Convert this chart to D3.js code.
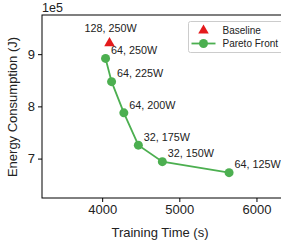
<!DOCTYPE html>
<html><head><meta charset="utf-8">
<script src="https://cdn.jsdelivr.net/npm/d3@7/dist/d3.min.js"></script>
<style>body{margin:0;background:#fff}svg{display:block}text{font-family:"Liberation Sans",Arial,sans-serif;fill:#222}</style>
</head><body>
<script>
const paretoLabels = ["64, 250W","64, 225W","64, 200W","32, 175W","32, 150W","64, 125W"];
const paretoTime = [4044, 4122, 4281, 4469, 4780, 5645];
const paretoEnergy = [8.918e5, 8.473e5, 7.876e5, 7.257e5, 6.941e5, 6.730e5];
const baselineLabel = ["128, 250W"];
const baselineTime = [4095];
const baselineEnergy = [9.211e5];
const xTicks = [4000, 5000, 6000];
const yTicks = [7e5, 8e5, 9e5];
const legendLabels = ["Baseline", "Pareto Front"];

const W = 281, H = 245;
const green = "#4caf50", red = "#e41a1c";
const svg = d3.select("body").append("svg").attr("width", W).attr("height", H);
const x = d3.scaleLinear().domain([3220, 6370]).range([42, 285]);
const y = d3.scaleLinear().domain([6.245e5, 9.75e5]).range([198, 15]);

// frame
svg.append("rect").attr("x", 42).attr("y", 15).attr("width", 243).attr("height", 183)
  .attr("fill", "none").attr("stroke", "#000").attr("stroke-width", 1);

const xAxis = svg.append("g").attr("transform", "translate(0,198)")
  .call(d3.axisBottom(x).tickValues(xTicks).tickSize(4).tickPadding(3).tickFormat(d3.format("d")));
const yAxis = svg.append("g").attr("transform", "translate(42,0)")
  .call(d3.axisLeft(y).tickValues(yTicks).tickSize(4).tickPadding(3).tickFormat(d => String(d / 1e5)));
[xAxis, yAxis].forEach(g => {
  g.select(".domain").remove();
  g.selectAll("text").style("font-size", "13px").attr("fill", "#222");
  g.selectAll("line").attr("stroke", "#000");
});

svg.append("text").attr("x", 42).attr("y", 12).style("font-size", "12.5px").text("1e5");
svg.append("text").attr("x", 160).attr("y", 237).attr("text-anchor", "middle").style("font-size", "13px").text("Training Time (s)");
svg.append("text").attr("transform", "translate(17,107) rotate(-90)").attr("text-anchor", "middle").style("font-size", "13px").text("Energy Consumption (J)");

// pareto line
const pts = paretoTime.map((t, i) => ({t, e: paretoEnergy[i], l: paretoLabels[i]}));
svg.append("path").datum(pts)
  .attr("d", d3.line().x(d => x(d.t)).y(d => y(d.e)))
  .attr("fill", "none").attr("stroke", green).attr("stroke-width", 1.8);
svg.selectAll("circle.p").data(pts).enter().append("circle")
  .attr("cx", d => x(d.t)).attr("cy", d => y(d.e)).attr("r", 4.5).attr("fill", green);
svg.selectAll("text.p").data(pts).enter().append("text")
  .attr("x", d => x(d.t) + 5.5).attr("y", d => y(d.e) - 4.2)
  .style("font-size", "10.8px").text(d => d.l);

// baseline
const tri = d3.symbol().type(d3.symbolTriangle).size(48);
baselineTime.forEach((t, i) => {
  svg.append("path").attr("d", tri()).attr("transform", `translate(${x(t)},${y(baselineEnergy[i])})`).attr("fill", red);
  svg.append("text").attr("x", x(t) + 1).attr("y", y(baselineEnergy[i]) - 11)
    .attr("text-anchor", "middle").style("font-size", "10.8px").text(baselineLabel[i]);
});

// legend
const lg = svg.append("g");
lg.append("rect").attr("x", 188.5).attr("y", 21.5).attr("width", 110).attr("height", 31).attr("rx", 2)
  .attr("fill", "#fff").attr("stroke", "#ccc").attr("stroke-width", 1);
lg.append("path").attr("d", tri()).attr("transform", "translate(203.5,30.5)").attr("fill", red);
lg.append("line").attr("x1", 191.5).attr("x2", 215.5).attr("y1", 43.5).attr("y2", 43.5).attr("stroke", green).attr("stroke-width", 1.8);
lg.append("circle").attr("cx", 203.5).attr("cy", 43.5).attr("r", 4.5).attr("fill", green);
legendLabels.forEach((l, i) => {
  lg.append("text").attr("x", 222.5).attr("y", 34 + i * 13.3).style("font-size", "10px").text(l);
});
</script>
</body></html>
